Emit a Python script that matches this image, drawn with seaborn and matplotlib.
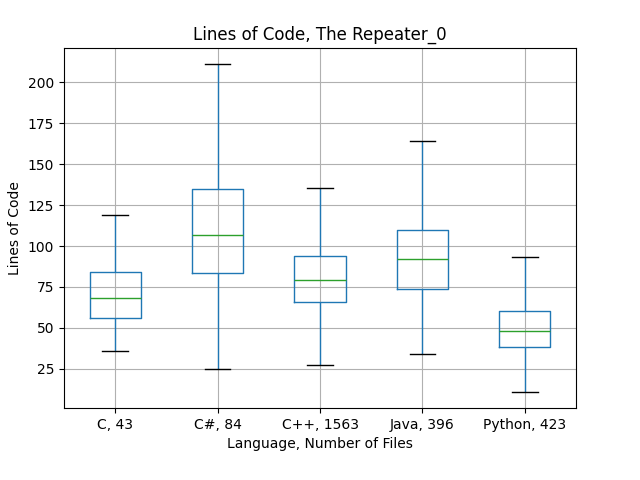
import numpy as np
import pandas as pd
import seaborn as sns
import matplotlib.pyplot as plt

# five-number summaries: low whisker, Q1, median, Q3, high whisker
languages = ["C, 43", "C#, 84", "C++, 1563", "Java, 396", "Python, 423"]
c_vals = [36.0, 56.1, 68.3, 84.1, 118.9]
csharp_vals = [25.0, 83.5, 106.7, 134.8, 211.0]
cpp_vals = [27.4, 65.9, 79.3, 93.9, 135.7]
java_vals = [34.1, 73.8, 92.1, 109.8, 164.0]
python_vals = [11.0, 38.4, 48.2, 60.4, 93.3]

all_vals = [c_vals, csharp_vals, cpp_vals, java_vals, python_vals]
df = pd.DataFrame({
    "Language": np.repeat(languages, [len(v) for v in all_vals]),
    "Lines of Code": np.concatenate(all_vals),
})

fig, ax = plt.subplots(figsize=(6.4, 4.8), dpi=100)
fig.subplots_adjust(left=0.1, right=0.9, bottom=0.15, top=0.9)

sns.boxplot(
    data=df, x="Language", y="Lines of Code", order=languages,
    fill=False, color="#1f77b4", width=0.5, linewidth=1,
    whis=(0, 100), showfliers=False,
    medianprops={"color": "#2ca02c"},
    capprops={"color": "black"},
    ax=ax,
)

ax.grid(True)
ax.set_title("Lines of Code, The Repeater_0")
ax.set_xlabel("Language, Number of Files")
ax.set_ylabel("Lines of Code")

plt.savefig("out.png")
